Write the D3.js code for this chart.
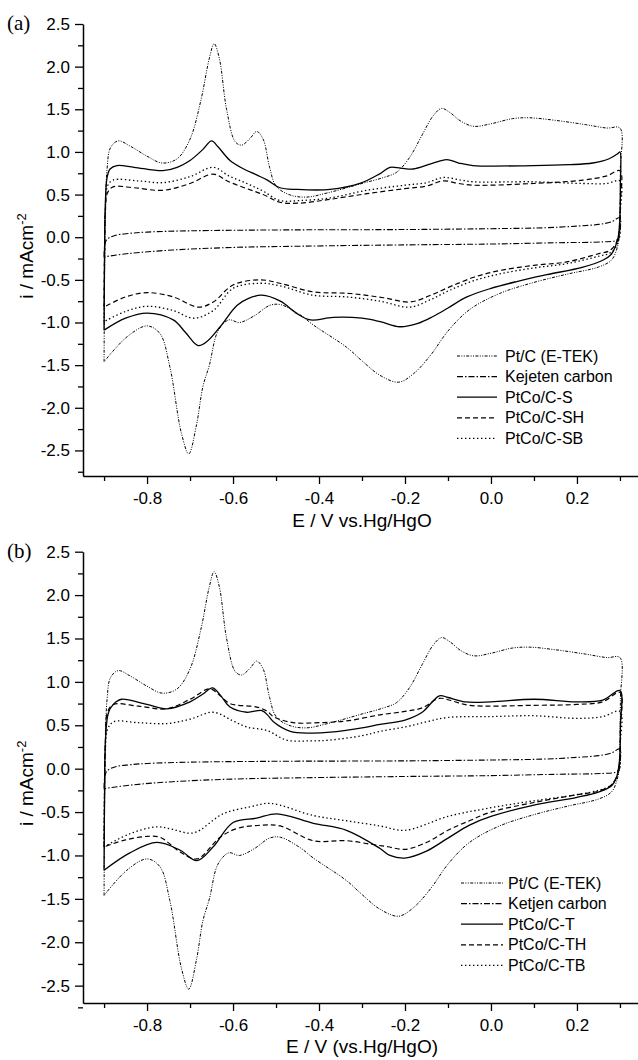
<!DOCTYPE html>
<html>
<head>
<meta charset="utf-8">
<script src="https://cdn.jsdelivr.net/npm/d3@7"></script>
<style>
  body { margin: 0; background: #fff; }
  svg { display: block; }
</style>
</head>
<body>
<div id="chart"></div>
<script>
'use strict'

////////////////////////////////////
///////////// data /////////////////
////////////////////////////////////

// [E (V), i (mA/cm2)] - anodic sweep -0.9 -> 0.3, cathodic sweep 0.3 -> -0.9
const ptcAnodic = [[-0.9,-1.46],[-0.899,-0.6],[-0.897,0.3],[-0.893,0.8],[-0.885,1.05],[-0.867,1.13],[-0.84,1.07],[-0.8,0.95],[-0.765,0.87],[-0.73,0.92],[-0.7,1.15],[-0.675,1.6],[-0.655,2.1],[-0.644,2.27],[-0.632,2.1],[-0.615,1.5],[-0.595,1.12],[-0.58,1.08],[-0.56,1.16],[-0.545,1.24],[-0.53,1.15],[-0.515,0.82],[-0.5,0.6],[-0.47,0.5],[-0.43,0.47],[-0.38,0.52],[-0.3,0.63],[-0.25,0.7],[-0.22,0.76],[-0.19,0.93],[-0.16,1.2],[-0.135,1.42],[-0.115,1.51],[-0.095,1.46],[-0.07,1.36],[-0.04,1.3],[0,1.33],[0.05,1.39],[0.09,1.4],[0.15,1.37],[0.22,1.32],[0.27,1.28],[0.3,1.28]]
const ptcCathodic = [[0.301,0.8],[0.3,0.3],[0.298,0],[0.292,-0.15],[0.28,-0.27],[0.25,-0.35],[0.18,-0.43],[0.1,-0.53],[0.02,-0.66],[-0.05,-0.85],[-0.1,-1.1],[-0.14,-1.38],[-0.18,-1.6],[-0.215,-1.7],[-0.258,-1.62],[-0.3,-1.45],[-0.336,-1.29],[-0.413,-1.03],[-0.444,-0.91],[-0.49,-0.79],[-0.515,-0.8],[-0.55,-0.92],[-0.585,-1.0],[-0.61,-0.97],[-0.635,-1.1],[-0.655,-1.5],[-0.67,-1.75],[-0.685,-2.2],[-0.703,-2.54],[-0.72,-2.3],[-0.747,-1.52],[-0.77,-1.13],[-0.8,-1.04],[-0.847,-1.17],[-0.9,-1.46]]

const ketjenAnodic = [[-0.9,-0.23],[-0.899,-0.12],[-0.894,-0.03],[-0.875,0.02],[-0.84,0.045],[-0.8,0.06],[-0.7,0.075],[-0.5,0.085],[-0.2,0.09],[0,0.1],[0.12,0.11],[0.2,0.13],[0.25,0.15],[0.28,0.18],[0.3,0.23]]
const ketjenCathodic = [[0.301,0.1],[0.299,0],[0.29,-0.04],[0.26,-0.055],[0.15,-0.065],[0,-0.08],[-0.2,-0.09],[-0.44,-0.105],[-0.6,-0.12],[-0.74,-0.15],[-0.84,-0.19],[-0.9,-0.23]]

// panel (a)
const sAnodic = [[-0.9,-1.09],[-0.899,-0.3],[-0.897,0.4],[-0.893,0.7],[-0.886,0.8],[-0.87,0.84],[-0.83,0.82],[-0.763,0.78],[-0.73,0.82],[-0.7,0.9],[-0.67,1.03],[-0.65,1.13],[-0.635,1.06],[-0.607,0.9],[-0.575,0.8],[-0.545,0.73],[-0.52,0.67],[-0.491,0.58],[-0.45,0.56],[-0.374,0.56],[-0.305,0.63],[-0.26,0.74],[-0.235,0.82],[-0.21,0.81],[-0.181,0.8],[-0.14,0.86],[-0.103,0.91],[-0.075,0.87],[-0.042,0.84],[0.098,0.84],[0.18,0.85],[0.237,0.87],[0.275,0.92],[0.295,0.98],[0.3,1.0]]
const sCathodic = [[0.301,0.6],[0.3,0.25],[0.296,0],[0.29,-0.1],[0.28,-0.2],[0.26,-0.27],[0.214,-0.35],[0.13,-0.44],[0.06,-0.52],[0,-0.6],[-0.056,-0.7],[-0.1,-0.83],[-0.135,-0.93],[-0.17,-1.01],[-0.212,-1.05],[-0.258,-0.99],[-0.3,-0.95],[-0.367,-0.94],[-0.42,-0.97],[-0.45,-0.9],[-0.49,-0.75],[-0.533,-0.68],[-0.565,-0.72],[-0.591,-0.8],[-0.63,-1.05],[-0.66,-1.22],[-0.681,-1.27],[-0.71,-1.12],[-0.739,-0.97],[-0.8,-0.89],[-0.85,-0.95],[-0.9,-1.09]]

const shAnodic = [[-0.9,-0.82],[-0.899,-0.2],[-0.897,0.3],[-0.892,0.52],[-0.879,0.59],[-0.83,0.58],[-0.763,0.55],[-0.7,0.63],[-0.646,0.74],[-0.61,0.65],[-0.568,0.57],[-0.53,0.5],[-0.491,0.41],[-0.444,0.4],[-0.38,0.44],[-0.289,0.51],[-0.2,0.57],[-0.15,0.6],[-0.111,0.66],[-0.075,0.63],[-0.042,0.61],[0.098,0.63],[0.214,0.67],[0.27,0.72],[0.3,0.78]]
const shCathodic = [[0.301,0.4],[0.298,0.05],[0.29,-0.08],[0.275,-0.16],[0.253,-0.19],[0.176,-0.29],[0.1,-0.33],[0.021,-0.39],[-0.04,-0.47],[-0.095,-0.58],[-0.14,-0.68],[-0.188,-0.76],[-0.25,-0.71],[-0.328,-0.66],[-0.414,-0.64],[-0.491,-0.54],[-0.537,-0.5],[-0.6,-0.56],[-0.646,-0.76],[-0.681,-0.82],[-0.739,-0.7],[-0.8,-0.65],[-0.85,-0.7],[-0.9,-0.82]]

const sbAnodic = [[-0.9,-0.99],[-0.899,-0.3],[-0.897,0.3],[-0.892,0.6],[-0.879,0.67],[-0.82,0.66],[-0.763,0.64],[-0.7,0.71],[-0.646,0.82],[-0.61,0.72],[-0.568,0.63],[-0.53,0.54],[-0.491,0.43],[-0.444,0.43],[-0.374,0.46],[-0.289,0.55],[-0.2,0.61],[-0.15,0.64],[-0.111,0.7],[-0.07,0.67],[-0.042,0.65],[0.098,0.65],[0.214,0.63],[0.27,0.63],[0.3,0.66]]
const sbCathodic = [[0.301,0.3],[0.298,0],[0.29,-0.12],[0.275,-0.19],[0.253,-0.22],[0.176,-0.31],[0.1,-0.36],[0.021,-0.43],[-0.04,-0.51],[-0.095,-0.62],[-0.14,-0.73],[-0.188,-0.82],[-0.258,-0.75],[-0.336,-0.7],[-0.414,-0.68],[-0.491,-0.57],[-0.537,-0.54],[-0.6,-0.6],[-0.646,-0.86],[-0.692,-0.95],[-0.739,-0.86],[-0.8,-0.81],[-0.85,-0.87],[-0.9,-0.99]]

// panel (b)
const tAnodic = [[-0.9,-1.17],[-0.899,-0.4],[-0.897,0.3],[-0.892,0.6],[-0.886,0.69],[-0.872,0.77],[-0.859,0.8],[-0.8,0.74],[-0.754,0.69],[-0.7,0.77],[-0.67,0.86],[-0.648,0.93],[-0.63,0.85],[-0.607,0.71],[-0.568,0.65],[-0.533,0.67],[-0.52,0.62],[-0.506,0.54],[-0.467,0.43],[-0.42,0.41],[-0.374,0.42],[-0.3,0.47],[-0.258,0.51],[-0.2,0.56],[-0.16,0.65],[-0.12,0.84],[-0.1,0.82],[-0.06,0.77],[0,0.77],[0.1,0.8],[0.2,0.77],[0.26,0.79],[0.3,0.9]]
const tCathodic = [[0.301,0.5],[0.299,0.1],[0.292,-0.1],[0.28,-0.2],[0.25,-0.27],[0.2,-0.33],[0.1,-0.42],[0,-0.55],[-0.05,-0.65],[-0.1,-0.8],[-0.15,-0.95],[-0.2,-1.03],[-0.235,-1.0],[-0.258,-0.92],[-0.336,-0.71],[-0.413,-0.63],[-0.498,-0.52],[-0.545,-0.57],[-0.6,-0.62],[-0.646,-0.9],[-0.684,-1.06],[-0.723,-0.94],[-0.777,-0.85],[-0.84,-0.97],[-0.9,-1.17]]

const thAnodic = [[-0.9,-0.9],[-0.899,-0.3],[-0.897,0.3],[-0.892,0.65],[-0.878,0.74],[-0.82,0.72],[-0.754,0.69],[-0.7,0.8],[-0.654,0.92],[-0.63,0.84],[-0.607,0.75],[-0.545,0.71],[-0.52,0.66],[-0.506,0.6],[-0.46,0.53],[-0.4,0.53],[-0.336,0.55],[-0.258,0.62],[-0.2,0.66],[-0.16,0.7],[-0.12,0.81],[-0.09,0.78],[-0.05,0.73],[0.1,0.73],[0.2,0.74],[0.26,0.77],[0.3,0.88]]
const thCathodic = [[0.301,0.45],[0.299,0.05],[0.29,-0.12],[0.277,-0.2],[0.25,-0.26],[0.2,-0.3],[0.1,-0.39],[0,-0.5],[-0.05,-0.6],[-0.1,-0.71],[-0.15,-0.85],[-0.2,-0.93],[-0.24,-0.9],[-0.28,-0.87],[-0.336,-0.83],[-0.413,-0.83],[-0.49,-0.66],[-0.53,-0.65],[-0.591,-0.69],[-0.63,-0.79],[-0.684,-1.04],[-0.723,-0.96],[-0.77,-0.79],[-0.8,-0.78],[-0.85,-0.82],[-0.9,-0.9]]

const tbAnodic = [[-0.9,-0.9],[-0.899,-0.3],[-0.897,0.2],[-0.892,0.45],[-0.878,0.54],[-0.82,0.53],[-0.754,0.52],[-0.7,0.57],[-0.646,0.65],[-0.6,0.55],[-0.568,0.48],[-0.521,0.44],[-0.476,0.33],[-0.42,0.32],[-0.374,0.33],[-0.3,0.38],[-0.258,0.43],[-0.2,0.48],[-0.15,0.54],[-0.1,0.59],[0,0.6],[0.1,0.61],[0.2,0.58],[0.26,0.6],[0.3,0.66]]
const tbCathodic = [[0.301,0.3],[0.299,0],[0.29,-0.12],[0.277,-0.2],[0.25,-0.25],[0.2,-0.3],[0.1,-0.37],[0,-0.45],[-0.1,-0.55],[-0.2,-0.71],[-0.258,-0.66],[-0.336,-0.6],[-0.413,-0.54],[-0.514,-0.4],[-0.56,-0.44],[-0.623,-0.52],[-0.692,-0.74],[-0.74,-0.7],[-0.777,-0.67],[-0.84,-0.75],[-0.9,-0.9]]

const legendA = ['Pt/C (E-TEK)', 'Kejeten carbon', 'PtCo/C-S', 'PtCo/C-SH', 'PtCo/C-SB']
const legendB = ['Pt/C (E-TEK)', 'Ketjen carbon', 'PtCo/C-T', 'PtCo/C-TH', 'PtCo/C-TB']

const xMajor = [-0.8, -0.6, -0.4, -0.2, 0.0, 0.2]
const xMinor = [-0.9, -0.7, -0.5, -0.3, -0.1, 0.1, 0.3]
const yMajor = [-2.5, -2.0, -1.5, -1.0, -0.5, 0.0, 0.5, 1.0, 1.5, 2.0, 2.5]
const yMinor = [-2.75, -2.25, -1.75, -1.25, -0.75, -0.25, 0.25, 0.75, 1.25, 1.75, 2.25]

////////////////////////////////////
//////////// svg setup /////////////
////////////////////////////////////

const svgWidth = 638
const svgHeight = 1060
const font = '"Liberation Sans", Arial, Helvetica, sans-serif'

const svg = d3.select('#chart').append('svg')
    .attr('width', svgWidth)
    .attr('height', svgHeight)
    .attr('viewBox', `0 0 ${svgWidth} ${svgHeight}`)

svg.append('rect').attr('width', svgWidth).attr('height', svgHeight).attr('fill', '#fff')

// line styles in legend order
const styles = [
    {dash: '3,1.4,1,1.4,1,1.4', width: 1.0},   // Pt/C
    {dash: '6,2,1.5,2', width: 1.1},           // carbon
    {dash: null, width: 1.3},                  // PtCo/C-S / -T
    {dash: '5,3', width: 1.2},                 // -SH / -TH
    {dash: '1.4,2.6', width: 1.3}              // -SB / -TB
]

const fmt = v => v.toFixed(1)

const panels = [
    {
        label: '(a)', top: 24, bottom: 476, yDomain: [-2.8, 2.5],
        xTitle: 'E / V vs.Hg/HgO', xTitleY: 527,
        loops: [[ptcAnodic, ptcCathodic], [ketjenAnodic, ketjenCathodic], [sAnodic, sCathodic], [shAnodic, shCathodic], [sbAnodic, sbCathodic]],
        legend: legendA, legendY: 356, legendX1: 457, legendX2: 497, legendText: 505
    },
    {
        label: '(b)', top: 551.7, bottom: 1003, yDomain: [-2.7, 2.5],
        xTitle: 'E / V (vs.Hg/HgO)', xTitleY: 1053,
        loops: [[ptcAnodic, ptcCathodic], [ketjenAnodic, ketjenCathodic], [tAnodic, tCathodic], [thAnodic, thCathodic], [tbAnodic, tbCathodic]],
        legend: legendB, legendY: 883, legendX1: 461, legendX2: 503, legendText: 508
    }
]

panels.forEach(p => {

    const x = d3.scaleLinear().domain([-0.949, 0.342]).range([83, 638])
    const y = d3.scaleLinear().domain(p.yDomain).range([p.bottom, p.top])

    const g = svg.append('g')

    // axes
    g.append('g').attr('transform', 'translate(83,0)')
        .call(d3.axisLeft(y).tickValues(yMajor).tickFormat(fmt).tickSize(8).tickSizeOuter(0).tickPadding(5))
    g.append('g').attr('transform', 'translate(83,0)')
        .call(d3.axisLeft(y).tickValues(yMinor).tickFormat('').tickSize(5).tickSizeOuter(0))
        .select('.domain').remove()

    g.append('g').attr('transform', `translate(0,${p.bottom})`)
        .call(d3.axisBottom(x).tickValues(xMajor).tickFormat(fmt).tickSize(8).tickSizeOuter(0).tickPadding(8))
    g.append('g').attr('transform', `translate(0,${p.bottom})`)
        .call(d3.axisBottom(x).tickValues(xMinor).tickFormat('').tickSize(5).tickSizeOuter(0))
        .select('.domain').remove()

    g.selectAll('.domain').attr('stroke', '#000').attr('stroke-width', 1.5)
    g.selectAll('.tick line').attr('stroke', '#000').attr('stroke-width', 1.3)
    g.selectAll('.tick text').attr('font-family', font).attr('font-size', 17).attr('fill', '#000')

    // axis titles
    g.append('text')
        .attr('x', 362).attr('y', p.xTitleY)
        .attr('text-anchor', 'middle')
        .attr('font-family', font).attr('font-size', 19)
        .text(p.xTitle)

    const yt = g.append('text')
        .attr('transform', `translate(33,${(p.top + p.bottom) / 2 + 6}) rotate(-90)`)
        .attr('text-anchor', 'middle')
        .attr('font-family', font).attr('font-size', 19)
    yt.append('tspan').text('i / mAcm')
    yt.append('tspan').attr('dy', '-0.55em').attr('font-size', 13).text('-2')

    // panel label
    g.append('text')
        .attr('x', 7).attr('y', p.top + 6)
        .attr('font-family', '"Liberation Serif", "Times New Roman", serif')
        .attr('font-size', 21)
        .text(p.label)

    // curves
    const line = d3.line()
        .x(d => x(d[0]))
        .y(d => y(d[1]))
        .curve(d3.curveCatmullRom.alpha(0.5))

    p.loops.forEach((loop, i) => {
        g.append('path')
            .attr('d', line(loop[0].concat(loop[1])))
            .attr('fill', 'none')
            .attr('stroke', '#000')
            .attr('stroke-width', styles[i].width)
            .attr('stroke-dasharray', styles[i].dash)
    })

    // legend
    p.legend.forEach((name, i) => {
        const ly = p.legendY + i * 20.6
        g.append('line')
            .attr('x1', p.legendX1).attr('x2', p.legendX2)
            .attr('y1', ly).attr('y2', ly)
            .attr('stroke', '#000')
            .attr('stroke-width', styles[i].width)
            .attr('stroke-dasharray', styles[i].dash)
        g.append('text')
            .attr('x', p.legendText).attr('y', ly + 5.5)
            .attr('font-family', font).attr('font-size', 16)
            .text(name)
    })
})
</script>
</body>
</html>
